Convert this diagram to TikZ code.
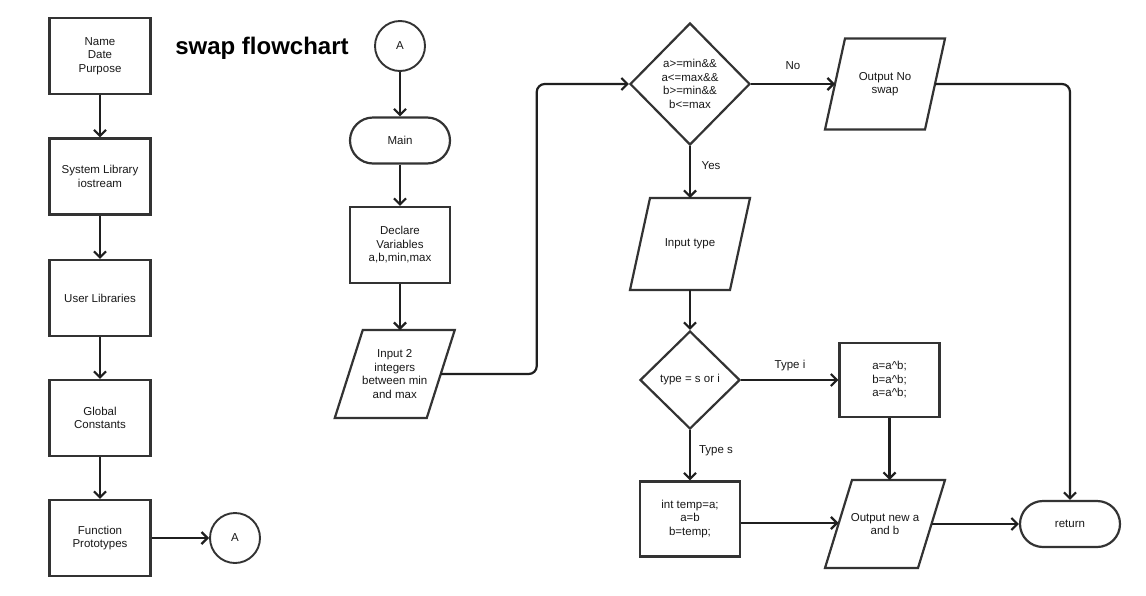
\documentclass[tikz,border=0pt]{standalone}
\usepackage{fontspec}
\setmainfont{Liberation Sans}
\usetikzlibrary{arrows.meta,shapes.geometric,calc}

% slanted input/output box drawn around a plain rectangle node
\newcommand\drawio[2]{%
  \draw[ioline] ($(#1.north west)+(#2,0)$) -- ($(#1.north east)+(#2,0)$)
    -- ($(#1.south east)-(#2,0)$) -- ($(#1.south west)-(#2,0)$) -- cycle;}

\begin{document}
\begin{tikzpicture}[x=1pt,y=-1pt,
  every node/.style={font=\fontsize{11.5}{13.5}\selectfont, text=black!90, align=center},
  proc/.style={draw=black!80, line width=2.2pt, rectangle, inner sep=0pt,
    minimum width=101pt, minimum height=76pt},
  term/.style={draw=black!80, line width=2.2pt, rectangle, rounded corners=23pt,
    inner sep=0pt, minimum width=100pt, minimum height=46pt},
  conn/.style={draw=black!80, line width=1.9pt, circle, inner sep=0pt, minimum size=50pt},
  decision/.style={draw=black!80, line width=2.2pt, diamond, inner sep=0pt},
  io/.style={rectangle, inner sep=0pt, outer sep=0pt},
  ioline/.style={draw=black!80, line width=2.2pt, line join=miter},
  arr/.style={draw=black!88, line width=2.2pt, -{Straight Barb[length=6pt,width=12pt]}},
  lbl/.style={font=\fontsize{11.5}{13.5}\selectfont},
]
\useasboundingbox (0,0) rectangle (1146,595);
\fill[white] (0,0) rectangle (1146,595);

% header column
\node[proc] (name) at (100,56) {Name\\Date\\Purpose};
\node[proc] (syslib) at (100,176.5) {System Library\\iostream};
\node[proc] (userlib) at (100,298) {User Libraries};
\node[proc] (glob) at (100,418) {Global\\Constants};
\node[proc] (proto) at (100,538) {Function\\Prototypes};
\node[conn] (aout) at (235,538) {A};

\node[font=\fontsize{24}{28}\selectfont\bfseries, text=black] (title) at (262,48) {swap flowchart};

% main program
\node[conn] (ain) at (400,46) {A};
\node[term] (main) at (400,140.5) {Main};
\node[proc, minimum width=100pt] (decl) at (400,245) {Declare\\Variables\\a,b,min,max};
\node[io, minimum width=92pt, minimum height=88pt] (inp) at (394.75,374) {Input 2\\integers\\between min\\and max};
\drawio{inp}{14pt}

\node[decision, minimum width=120pt, minimum height=122pt] (range) at (690,84)
  {a>=min\&\&\\a<=max\&\&\\b>=min\&\&\\b<=max};
\node[io, minimum width=100pt, minimum height=91pt] (noswap) at (885,84) {Output No\\swap};
\drawio{noswap}{10pt}

\node[io, minimum width=100pt, minimum height=92pt] (itype) at (690,244) {Input type};
\drawio{itype}{10pt}

\node[decision, minimum width=100pt, minimum height=98pt] (kind) at (690,380) {type = s or i};
\node[proc, minimum width=100pt, minimum height=74pt] (xorsw) at (889.5,380)
  {a=a\textasciicircum b;\\b=a\textasciicircum b;\\a=a\textasciicircum b;};
\node[proc, minimum width=100pt, minimum height=75pt] (tmpsw) at (690,519)
  {int temp=a;\\a=b\\b=temp;};
\node[io, minimum width=93pt, minimum height=88pt] (outab) at (885,524) {Output new a\\and b};
\drawio{outab}{13.5pt}

\node[term] (ret) at (1070,524) {return};

% connectors
\draw[arr] (name) -- (syslib);
\draw[arr] (syslib) -- (userlib);
\draw[arr] (userlib) -- (glob);
\draw[arr] (glob) -- (proto);
\draw[arr] (proto) -- (aout);

\draw[arr] (ain) -- (main);
\draw[arr] (main) -- (decl);
\draw[arr] (decl.south) -- (decl.south |- inp.north);
\draw[arr, rounded corners=8pt] (inp.east) -- ++(96,0) |- (range.west);

\draw[arr] (range.east) -- (noswap.west);
\draw[arr, rounded corners=8pt] (noswap.east) -| (ret.north);
\draw[arr] (range.south) -- (itype.north);
\draw[arr] (itype.south) -- (kind.north);
\draw[arr] (kind.east) -- (xorsw.west);
\draw[arr] (kind.south) -- (tmpsw.north);
\draw[arr] (xorsw.south) -- (xorsw.south |- outab.north);
\draw[arr] ([yshift=-4pt]tmpsw.east) -- ([yshift=-4pt]tmpsw.east -| outab.west);
\draw[arr] (outab.east) -- (ret.west);

% branch labels
\node[lbl] (lno) at (793,66) {No};
\node[lbl] (lyes) at (711,166) {Yes};
\node[lbl] (ltypei) at (790,366) {Type i};
\node[lbl] (ltypes) at (716,451) {Type s};
\end{tikzpicture}
\end{document}
